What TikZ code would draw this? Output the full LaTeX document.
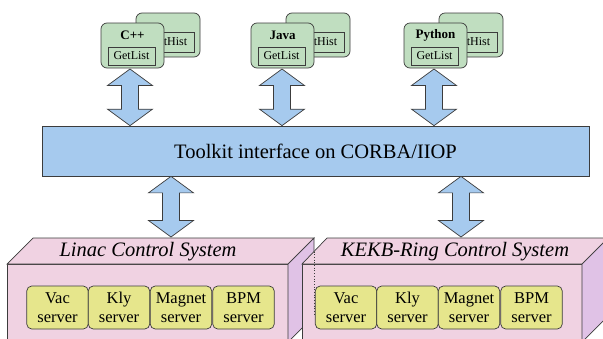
\documentclass[tikz,border=0pt]{standalone}
\usepackage{fontspec}
\setmainfont{Liberation Serif}
\usetikzlibrary{calc}
\definecolor{tkblue}{RGB}{166,202,238}
\definecolor{clgreen}{RGB}{192,222,192}
\definecolor{srvyellow}{RGB}{230,230,140}
\definecolor{cubepink}{RGB}{240,210,226}
\definecolor{cubeside}{RGB}{224,194,230}
\definecolor{edgecol}{RGB}{60,60,60}
\newcommand\blockarrow[2]{%
  \draw[barrow] (#1) -- ($(#1)+(22.5,16.5)$) -- ($(#1)+(8.5,16.5)$) -- ($(#2)+(8.5,-16.5)$)
    -- ($(#2)+(22.5,-16.5)$) -- (#2) -- ($(#2)+(-22.5,-16.5)$) -- ($(#2)+(-8.5,-16.5)$)
    -- ($(#1)+(-8.5,16.5)$) -- ($(#1)+(-22.5,16.5)$) -- cycle;}
\tikzset{
  lineb/.style={draw=edgecol, line width=0.7pt},
  toolkit/.style={lineb, fill=tkblue, minimum width=547, minimum height=50, inner sep=0, font=\fontsize{20.5}{24}\selectfont},
  barrow/.style={lineb, fill=tkblue, line join=miter},
  client/.style={lineb, fill=clgreen, rounded corners=6, minimum width=63, minimum height=45, inner sep=0},
  inbox/.style={lineb, fill=clgreen, minimum width=47, minimum height=18, inner sep=0, font=\fontsize{12}{13}\selectfont},
  histbox/.style={lineb, fill=clgreen, minimum width=54, minimum height=20, inner sep=0},
  histtext/.style={inner sep=0, font=\fontsize{12}{13}\selectfont},
  lang/.style={font=\bfseries\fontsize{13}{15}\selectfont, inner sep=0},
  server/.style={lineb, fill=srvyellow, rounded corners=5, minimum width=61.5, minimum height=43, inner sep=0, align=center, font=\fontsize{16.5}{19}\selectfont},
  facefront/.style={lineb, fill=cubepink},
  faceside/.style={lineb, fill=cubeside},
  systitle/.style={font=\itshape\fontsize{20.5}{23}\selectfont, inner sep=0},
}
\begin{document}
\begin{tikzpicture}[x=1pt,y=-1pt]
\path[use as bounding box, clip] (0,0) rectangle (603,338);
\fill[white] (0,0) rectangle (603,338);

% client groups
\foreach \ox/\lab/\nm in {0/C++/cpp, 150/Java/java, 303/Python/py}{
  \node[client] (\nm back) at (168+\ox,35) [minimum width=64, minimum height=44] {};
  \node[histbox] (\nm hist) at (167+\ox,42) {};
  \node[histtext] (\nm histlab) at (168.5+\ox,42) {GetHist};
  \node[client] (\nm) at (132.5+\ox,45.5) {};
  \node[lang] (\nm lab) at (132.5+\ox,35) {\lab};
  \node[inbox] (\nm list) at (131.5+\ox,56) {GetList};
}

% toolkit
\node[toolkit] (tk) at (315.5,151) {Toolkit interface on CORBA/IIOP};

% upper arrows
\coordinate (u1t) at (130,69);
\coordinate (u2t) at (282,69);
\coordinate (u3t) at (434,69);
\coordinate (u1b) at (u1t |- tk.north);
\coordinate (u2b) at (u2t |- tk.north);
\coordinate (u3b) at (u3t |- tk.north);
\blockarrow{u1t}{u1b}
\blockarrow{u2t}{u2b}
\blockarrow{u3t}{u3b}

% cubes
\draw[facefront] (7,264) rectangle (288,342);
\draw[facefront] (7,264) -- (33,238) -- (314,238) -- (288,264) -- cycle;
\draw[faceside] (288,264) -- (314,238) -- (314,316) -- (288,342) -- cycle;
\draw[facefront] (302,264) rectangle (582,342);
\draw[facefront] (302,264) -- (327,238) -- (608,238) -- (582,264) -- cycle;
\draw[faceside] (582,264) -- (608,238) -- (608,316) -- (582,342) -- cycle;
\draw[draw=edgecol, line width=0.7pt, dotted] (314,251.5) -- (314,316);

\node[systitle] (linac) at (148,252) {Linac Control System};
\node[systitle] (kekb) at (455,252) {KEKB-Ring Control System};

% lower arrows
\coordinate (l1t) at (171,0 |- tk.south);
\coordinate (l2t) at (461,0 |- tk.south);
\coordinate (l1b) at (171,237);
\coordinate (l2b) at (461,237);
\blockarrow{l1t}{l1b}
\blockarrow{l2t}{l2b}

% servers
\foreach \x/\t/\nm in {57.5/Vac/lv, 119/Kly/lk, 181/Magnet/lm, 243.5/BPM/lb,
                        346/Vac/kv, 407.5/Kly/kk, 469/Magnet/km, 531.5/BPM/kb}{
  \node[server] (\nm) at (\x,307.5) {\t\\server};
}
\end{tikzpicture}
\end{document}
